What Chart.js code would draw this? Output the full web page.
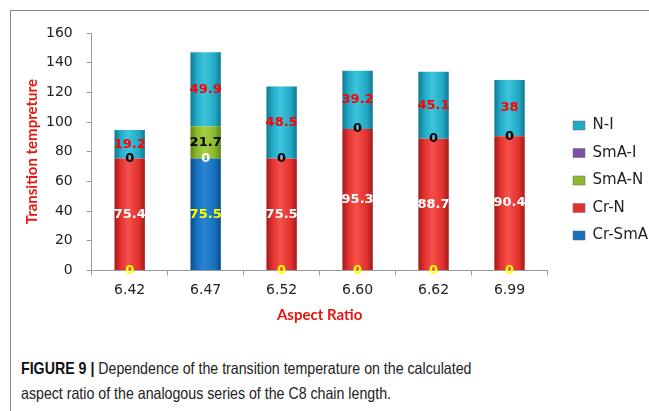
<!DOCTYPE html>
<html>
<head>
<meta charset="utf-8">
<script src="https://cdn.jsdelivr.net/npm/chart.js@4"></script>
<style>
  body { margin: 0; width: 649px; height: 411px; background: #fff; overflow: hidden; position: relative; }
  #frame { position: absolute; left: 10px; top: 10px; width: 660px; height: 420px; border-left: 1px solid #8a8a8a; border-top: 1px solid #8a8a8a; }
  #box { position: absolute; left: 10px; top: 10px; width: 648px; height: 336px; }
  #caption { position: absolute; left: 21px; top: 356px; width: 700px; font-family: "Liberation Sans", sans-serif; font-size: 16.5px; line-height: 25px; color: #222; transform: scaleX(0.86); transform-origin: left top; white-space: nowrap; }
  #caption b { color: #111; }
</style>
</head>
<body>
<div id="frame"></div>
<div id="box"><canvas id="chart"></canvas></div>
<div id="caption"><b>FIGURE 9 |</b> Dependence of the transition temperature on the calculated<br>aspect ratio of the analogous series of the C8 chain length.</div>
<script>
const ratios = ['6.42', '6.47', '6.52', '6.60', '6.62', '6.99']
const crSmA = [0, 75.5, 0, 0, 0, 0]
const crN = [75.4, 0, 75.5, 95.3, 88.7, 90.4]
const smAN = [0, 21.7, 0, 0, 0, 0]
const smAI = [0, 0, 0, 0, 0, 0]
const nI = [19.2, 49.9, 48.5, 39.2, 45.1, 38]
const yTicks = [0, 20, 40, 60, 80, 100, 120, 140, 160]

// horizontal shading so the bars look a bit like the 3d ones
const shade = (dark, mid, light) => (context) => {
    const chart = context.chart
    const area = chart.chartArea
    if (!area || context.type !== 'data') return mid
    const xs = chart.scales.x
    const x = xs.getPixelForValue(context.dataIndex)
    const half = (area.right - area.left) / ratios.length * 0.4 / 2
    const g = chart.ctx.createLinearGradient(x - half, 0, x + half, 0)
    g.addColorStop(0, dark)
    g.addColorStop(0.2, mid)
    g.addColorStop(0.45, light)
    g.addColorStop(0.8, mid)
    g.addColorStop(1, dark)
    return g
}

const valueLabels = {
    id: 'valueLabels',
    afterDatasetsDraw(chart) {
        const ctx = chart.ctx
        ctx.save()
        ctx.font = 'bold 13px "DejaVu Sans"'
        ctx.textAlign = 'center'
        ctx.textBaseline = 'middle'
        chart.data.datasets.forEach((ds, i) => {
            if (!ds.labelColor) return
            chart.getDatasetMeta(i).data.forEach((bar, j) => {
                ctx.fillStyle = ds.labelColor
                ctx.fillText(String(ds.data[j]), bar.x, (bar.y + bar.base) / 2)
            })
        })
        ctx.restore()
    }
}

const makeSet = (label, data, colors, labelColor) => ({
    label,
    data,
    backgroundColor: shade(colors[0], colors[1], colors[2]),
    legendColor: colors[1],
    labelColor,
    borderWidth: 0
})

const datasets = [
    makeSet('Cr-SmA', crSmA, ['#0c4d86', '#1670bd', '#2a86d2'], '#ffff00'),
    makeSet('Cr-N', crN, ['#a01b1a', '#e2312e', '#f5504a'], '#ffffff'),
    makeSet('SmA-N', smAN, ['#5c8416', '#8bb82c', '#a4cf45'], '#000000'),
    makeSet('SmA-I', smAI, ['#4f2f75', '#7b52a6', '#9470bd'], null),
    makeSet('N-I', nI, ['#137790', '#22a9c6', '#3ec4dc'], '#ff0000')
]

Chart.defaults.font.family = '"DejaVu Sans"'
Chart.defaults.color = '#222'

new Chart(document.getElementById('chart'), {
    type: 'bar',
    data: { labels: ratios, datasets },
    options: {
        responsive: true,
        maintainAspectRatio: false,
        animation: false,
        layout: { padding: { top: 23, left: 9, bottom: 18, right: 0 } },
        datasets: { bar: { categoryPercentage: 1, barPercentage: 0.4 } },
        plugins: {
            tooltip: { enabled: false },
            legend: {
                position: 'right',
                reverse: true,
                labels: {
                    boxWidth: 12,
                    boxHeight: 9,
                    padding: 12.5,
                    font: { size: 15 },
                    generateLabels(chart) {
                        const items = Chart.defaults.plugins.legend.labels.generateLabels(chart)
                        return items.map(it => ({ ...it, fillStyle: chart.data.datasets[it.datasetIndex].legendColor, strokeStyle: '#666', lineWidth: 0.5 }))
                    }
                }
            }
        },
        scales: {
            x: {
                stacked: true,
                border: { color: '#9a9a9a' },
                grid: { display: true, drawOnChartArea: false, color: '#9a9a9a', tickLength: 5, offset: true },
                ticks: { font: { size: 14, lineHeight: 0.9 }, padding: 9 },
                title: { display: true, text: 'Aspect Ratio', color: '#e8140f', font: { family: 'Lato', size: 15, weight: 'bold' }, padding: { top: 0 } }
            },
            y: {
                stacked: true,
                min: 0,
                max: 160,
                afterBuildTicks: (axis) => { axis.ticks = yTicks.map(v => ({ value: v })) },
                afterFit: (axis) => { axis.width = 72.7 },
                border: { color: '#9a9a9a' },
                grid: { display: true, drawOnChartArea: false, color: '#9a9a9a', tickLength: 5 },
                ticks: { font: { size: 14 }, padding: 14 },
                title: { display: true, text: 'Transition tempreture', color: '#e8140f', font: { family: 'Lato', size: 15, weight: 'bold' }, padding: { bottom: 0 } }
            },
            // empty spacer so the legend sits further right of the bars
            gap: {
                position: 'right',
                display: true,
                grid: { display: false },
                border: { display: false },
                ticks: { display: false },
                afterFit: (axis) => { axis.width = 13 }
            }
        }
    },
    plugins: [valueLabels]
})
</script>
</body>
</html>
